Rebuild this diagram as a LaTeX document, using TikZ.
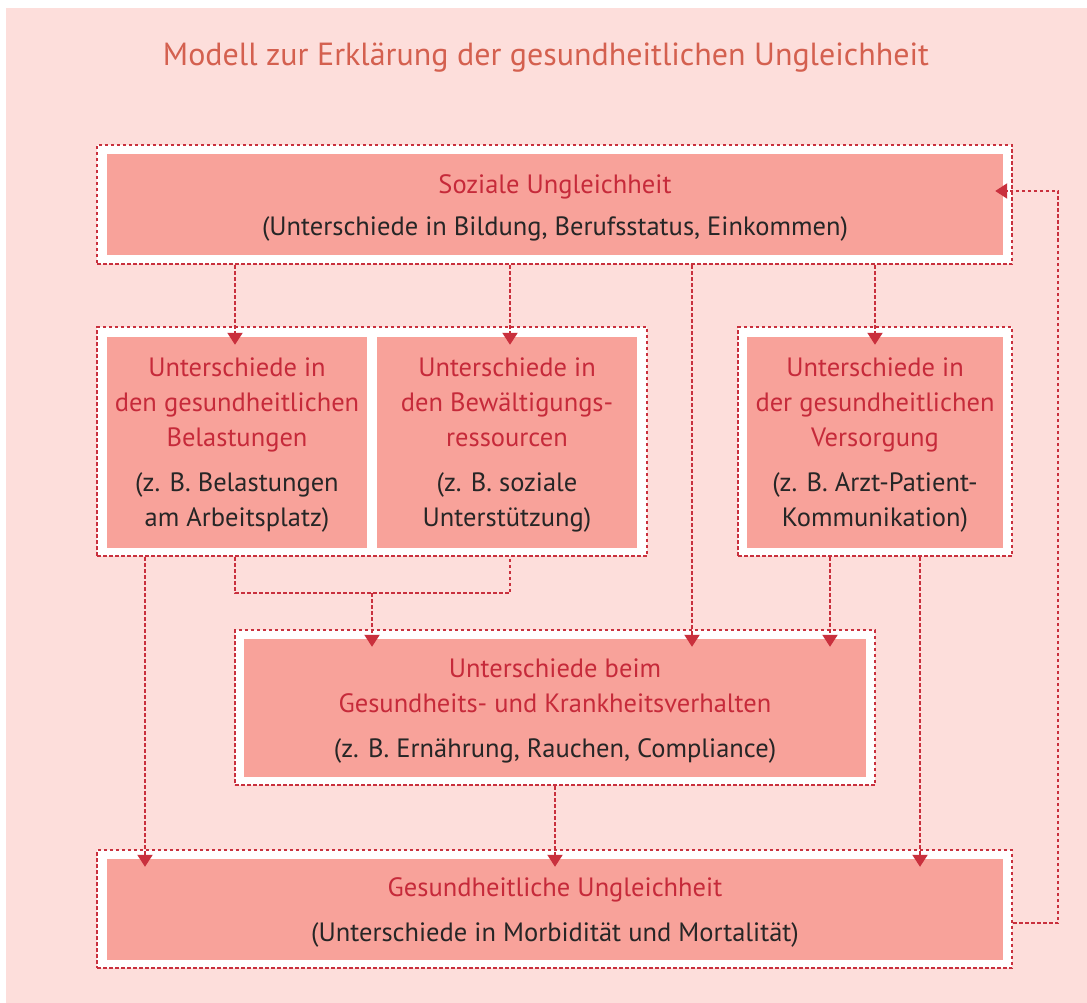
\documentclass[tikz,border=0pt]{standalone}
\usepackage{fontspec}
\setmainfont{PT Sans}
\usetikzlibrary{arrows.meta}
\definecolor{bgpink}{HTML}{FDDEDB}
\definecolor{boxfill}{HTML}{F8A29A}
\definecolor{redtext}{HTML}{C62A3A}
\definecolor{titlec}{HTML}{D4604F}
\definecolor{dashc}{HTML}{C9303D}
\definecolor{darktext}{HTML}{262626}
\newcommand\rt[1]{\textcolor{redtext}{#1}}
\begin{document}
\begin{tikzpicture}[x=1pt,y=-1pt,
  outerbox/.style={draw=dashc, fill=white, line width=2pt, dash pattern=on 3.5pt off 2.5pt, inner sep=0pt},
  innerbox/.style={fill=boxfill, inner sep=0pt},
  boxtext/.style={inner sep=0pt, align=center, text=darktext, font=\fontsize{26.5}{35}\selectfont, yshift=-3pt},
  dl/.style={draw=dashc, line width=2pt, dash pattern=on 3.5pt off 2.5pt},
  arr/.style={dl, -{Triangle[width=15pt,length=12pt]}},
  wh/.style={minimum width=#1},
  ht/.style={minimum height=#1}]
\useasboundingbox (0,0) rectangle (1087,1003);
\fill[white] (0,0) rectangle (1087,1003);
\fill[bgpink] (6,8) rectangle (1087,1003);
\node[text=titlec, font=\fontsize{32}{40}\selectfont] (title) at (546,58) {Modell zur Erklärung der gesundheitlichen Ungleichheit};
% outer boxes
\node[outerbox, wh=915pt, ht=119pt] (TO) at (554.5,204.5) {};
\node[outerbox, wh=550pt, ht=229pt] (LO) at (372,441.5) {};
\node[outerbox, wh=274pt, ht=229pt] (RO) at (875,441.5) {};
\node[outerbox, wh=640pt, ht=155pt] (MO) at (555,707.5) {};
\node[outerbox, wh=915pt, ht=118pt] (BO) at (554.5,909) {};
% inner boxes
\node[innerbox, wh=896pt, ht=101pt] (T) at (555,204.5) {};
\node[innerbox, wh=260pt, ht=211pt] (L) at (237,442.5) {};
\node[innerbox, wh=260pt, ht=211pt] (C) at (507,442.5) {};
\node[innerbox, wh=256pt, ht=211pt] (R) at (875,442.5) {};
\node[innerbox, wh=622pt, ht=138pt] (M) at (555,708) {};
\node[innerbox, wh=896pt, ht=101pt] (B) at (555,909.5) {};
% texts
\node[boxtext] (Tt) at (T.center) {\rt{Soziale Ungleichheit}\\[7pt](Unterschiede in Bildung, Berufsstatus, Einkommen)};
\node[boxtext] (Lt) at (L.center) {\rt{Unterschiede in}\\\rt{den gesundheitlichen}\\\rt{Belastungen}\\[10pt](z. B. Belastungen\\am Arbeitsplatz)};
\node[boxtext] (Ct) at (C.center) {\rt{Unterschiede in}\\\rt{den Bewältigungs-}\\\rt{ressourcen}\\[10pt](z. B. soziale\\Unterstützung)};
\node[boxtext] (Rt) at (R.center) {\rt{Unterschiede in}\\\rt{der gesundheitlichen}\\\rt{Versorgung}\\[10pt](z. B. Arzt-Patient-\\Kommunikation)};
\node[boxtext] (Mt) at (M.center) {\rt{Unterschiede beim}\\\rt{Gesundheits- und Krankheitsverhalten}\\[10pt](z. B. Ernährung, Rauchen, Compliance)};
\node[boxtext] (Bt) at (B.center) {\rt{Gesundheitliche Ungleichheit}\\[10pt](Unterschiede in Morbidität und Mortalität)};
% connectors
\draw[arr] (TO.south -| 235,0) -- ([yshift=-8pt]L.north -| 235,0);
\draw[arr] (TO.south -| 510,0) -- ([yshift=-8pt]C.north -| 510,0);
\draw[arr] (TO.south -| 692,0) -- ([yshift=-8pt]M.north -| 692,0);
\draw[arr] (TO.south -| 875,0) -- ([yshift=-8pt]R.north -| 875,0);
\coordinate (j) at (372,593);
\draw[dl] (LO.south -| 235,0) |- (j) -| (LO.south -| 510,0);
\draw[arr] (j) -- ([yshift=-8pt]M.north -| j);
\draw[arr] (LO.south -| 145,0) -- ([yshift=-8pt]B.north -| 145,0);
\draw[arr] (RO.south -| 830,0) -- ([yshift=-8pt]M.north -| 830,0);
\draw[arr] (RO.south -| 920,0) -- ([yshift=-8pt]B.north -| 920,0);
\draw[arr] (MO.south -| 555,0) -- ([yshift=-8pt]B.north -| 555,0);
\coordinate (fb) at (1058,191);
\draw[arr] (BO.east |- 0,923) -| (fb) -- ([xshift=-8pt]T.east |- fb);
\end{tikzpicture}
\end{document}
